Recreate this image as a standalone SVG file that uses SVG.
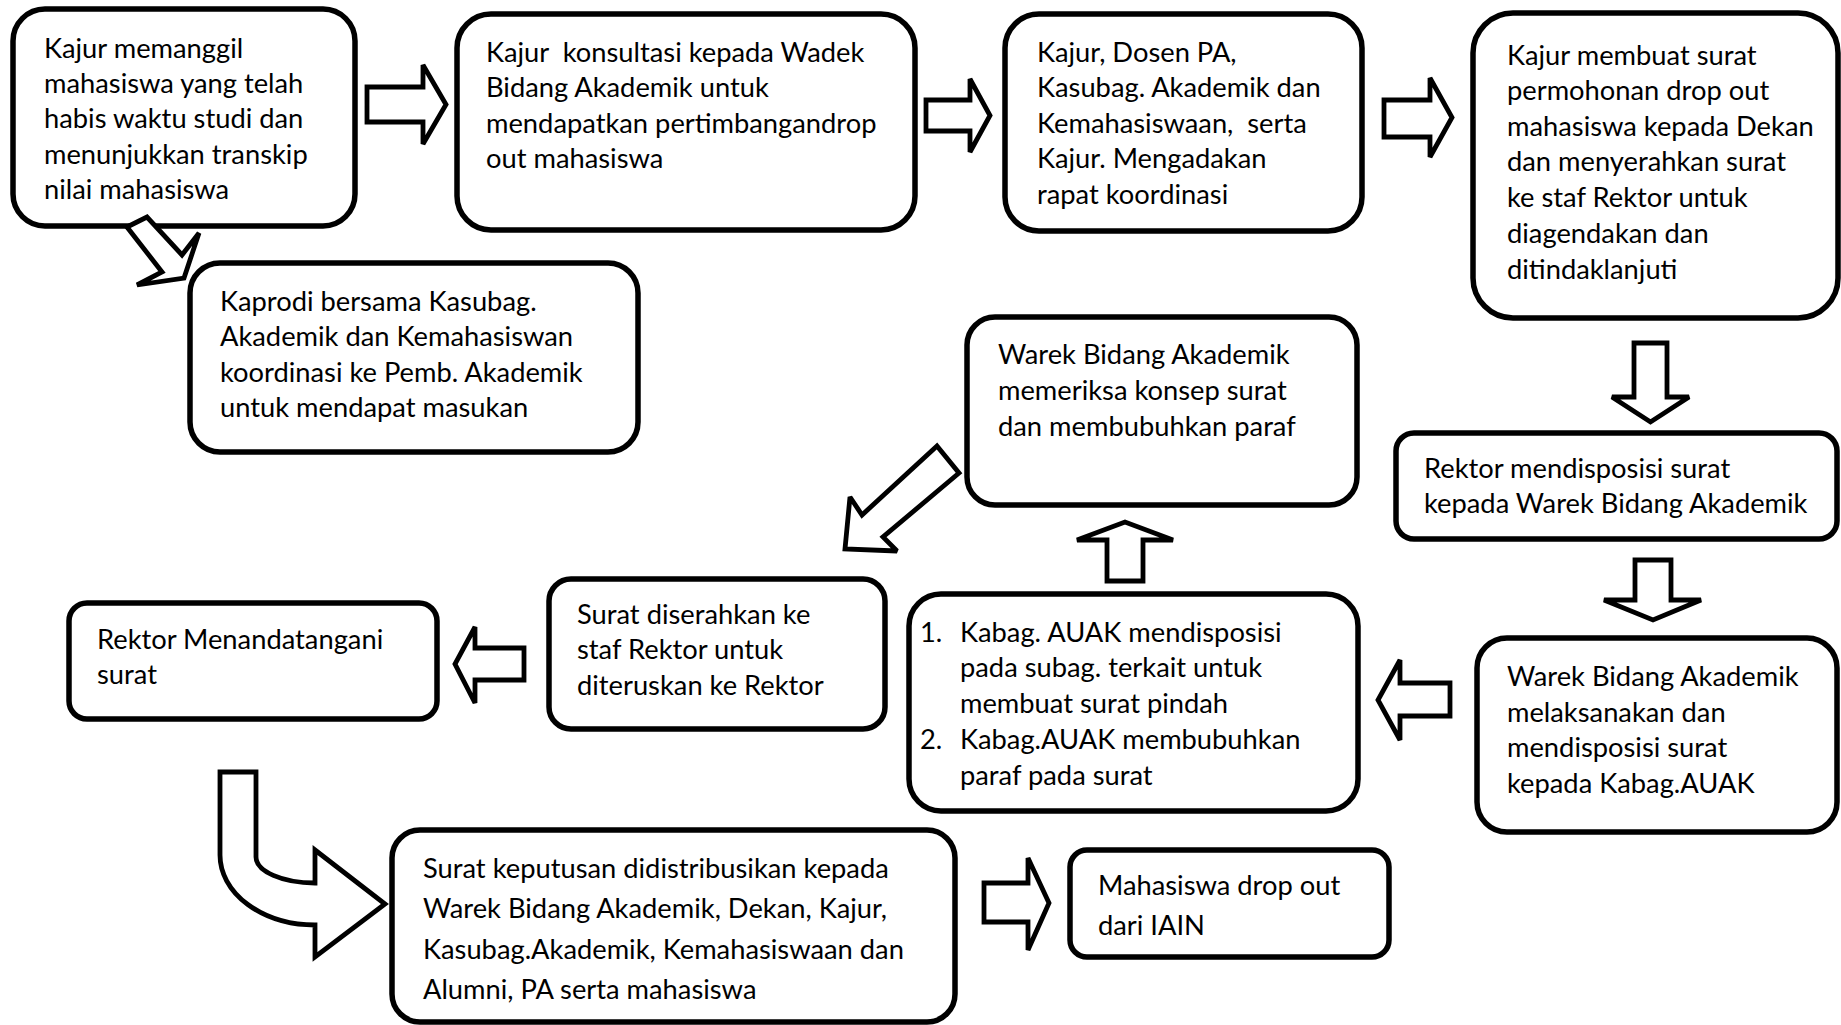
<svg xmlns="http://www.w3.org/2000/svg" width="1841" height="1025" viewBox="0 0 1841 1025">
  <style>
    .box { fill: #ffffff; stroke: #000000; stroke-width: 5.5; }
    .arrow { fill: #ffffff; stroke: #000000; stroke-width: 4.8; stroke-linejoin: miter; stroke-miterlimit: 2.6; }
    text { font-family: Lato, "Liberation Sans", sans-serif; font-size: 27.3px; fill: #000000; white-space: pre; }
  </style>
  <rect width="1841" height="1025" fill="#ffffff"/>

  <!-- process steps -->
  <g id="node-panggil">
    <rect class="box" x="13" y="9" width="342" height="217" rx="32"/>
    <text x="44" y="58">Kajur memanggil</text>
    <text x="44" y="93">mahasiswa yang telah</text>
    <text x="44" y="128">habis waktu studi dan</text>
    <text x="44" y="164">menunjukkan transkip</text>
    <text x="44" y="199">nilai mahasiswa</text>
  </g>
  <g id="node-konsultasi">
    <rect class="box" x="457" y="14" width="458" height="216" rx="34"/>
    <text x="486" y="62">Kajur  konsultasi kepada Wadek</text>
    <text x="486" y="97">Bidang Akademik untuk</text>
    <text x="486" y="133">mendapatkan pertimbangandrop</text>
    <text x="486" y="168">out mahasiswa</text>
  </g>
  <g id="node-rapat">
    <rect class="box" x="1005" y="14" width="357" height="217" rx="34"/>
    <text x="1037" y="62">Kajur, Dosen PA,</text>
    <text x="1037" y="97">Kasubag. Akademik dan</text>
    <text x="1037" y="133">Kemahasiswaan,  serta</text>
    <text x="1037" y="168">Kajur. Mengadakan</text>
    <text x="1037" y="204">rapat koordinasi</text>
  </g>
  <g id="node-permohonan">
    <rect class="box" x="1473" y="13" width="365" height="305" rx="40"/>
    <text x="1507" y="65">Kajur membuat surat</text>
    <text x="1507" y="100">permohonan drop out</text>
    <text x="1507" y="136">mahasiswa kepada Dekan</text>
    <text x="1507" y="171">dan menyerahkan surat</text>
    <text x="1507" y="207">ke staf Rektor untuk</text>
    <text x="1507" y="243">diagendakan dan</text>
    <text x="1507" y="279">ditindaklanjuti</text>
  </g>
  <g id="node-kaprodi">
    <rect class="box" x="190" y="263" width="448" height="189" rx="30"/>
    <text x="220" y="311">Kaprodi bersama Kasubag.</text>
    <text x="220" y="346">Akademik dan Kemahasiswan</text>
    <text x="220" y="382">koordinasi ke Pemb. Akademik</text>
    <text x="220" y="417">untuk mendapat masukan</text>
  </g>
  <g id="node-warek-periksa">
    <rect class="box" x="967" y="317" width="390" height="188" rx="28"/>
    <text x="998" y="364">Warek Bidang Akademik</text>
    <text x="998" y="400">memeriksa konsep surat</text>
    <text x="998" y="436">dan membubuhkan paraf</text>
  </g>
  <g id="node-rektor-disposisi">
    <rect class="box" x="1396" y="433" width="441" height="106" rx="18"/>
    <text x="1424" y="478">Rektor mendisposisi surat</text>
    <text x="1424" y="513">kepada Warek Bidang Akademik</text>
  </g>
  <g id="node-warek-laksana">
    <rect class="box" x="1477" y="638" width="360" height="194" rx="30"/>
    <text x="1507" y="686">Warek Bidang Akademik</text>
    <text x="1507" y="722">melaksanakan dan</text>
    <text x="1507" y="757">mendisposisi surat</text>
    <text x="1507" y="793">kepada Kabag.AUAK</text>
  </g>
  <g id="node-kabag">
    <rect class="box" x="909" y="594" width="449" height="217" rx="32"/>
    <text x="920" y="642">1.</text>
    <text x="960" y="642">Kabag. AUAK mendisposisi</text>
    <text x="960" y="677">pada subag. terkait untuk</text>
    <text x="960" y="713">membuat surat pindah</text>
    <text x="920" y="749">2.</text>
    <text x="960" y="749">Kabag.AUAK membubuhkan</text>
    <text x="960" y="785">paraf pada surat</text>
  </g>
  <g id="node-staf-rektor">
    <rect class="box" x="549" y="579" width="336" height="150" rx="22"/>
    <text x="577" y="624">Surat diserahkan ke</text>
    <text x="577" y="659">staf Rektor untuk</text>
    <text x="577" y="695">diteruskan ke Rektor</text>
  </g>
  <g id="node-tandatangan">
    <rect class="box" x="69" y="603" width="368" height="116" rx="18"/>
    <text x="97" y="649">Rektor Menandatangani</text>
    <text x="97" y="684">surat</text>
  </g>
  <g id="node-distribusi">
    <rect class="box" x="392" y="830" width="563" height="192" rx="28"/>
    <text x="423" y="878">Surat keputusan didistribusikan kepada</text>
    <text x="423" y="918">Warek Bidang Akademik, Dekan, Kajur,</text>
    <text x="423" y="959">Kasubag.Akademik, Kemahasiswaan dan</text>
    <text x="423" y="999">Alumni, PA serta mahasiswa</text>
  </g>
  <g id="node-dropout">
    <rect class="box" x="1070" y="850" width="319" height="107" rx="17"/>
    <text x="1098" y="895">Mahasiswa drop out</text>
    <text x="1098" y="935">dari IAIN</text>
  </g>

  <!-- block arrows between the steps -->
  <g id="connectors">
    <polygon class="arrow" points="367,87 423,87 423,65 446,104.5 423,144 423,122 367,122"/>
    <polygon class="arrow" points="926,100 970,100 970,79 990,115.5 970,152 970,131 926,131"/>
    <polygon class="arrow" points="1384,100 1430,100 1430,78 1452,117.5 1430,157 1430,137 1384,137"/>
    <polygon class="arrow" points="127,227 147,217 182,255 199,233 184,278 137,285 162,272"/>
    <polygon class="arrow" points="1634,343 1667,343 1667,397 1689,397 1650.5,422 1612,397 1634,397"/>
    <polygon class="arrow" points="1635,560 1671,560 1671,600 1701,600 1653,620 1604,600 1635,600"/>
    <polygon class="arrow" points="1450,683 1450,716 1400,716 1400,740 1378,700 1400,660 1400,683"/>
    <polygon class="arrow" points="1107,581 1143,581 1143,540 1173,540 1125,522 1077,540 1107,540"/>
    <polygon class="arrow" points="937,446 959,473 883,537 897,551 845,549 850,497 862,515"/>
    <polygon class="arrow" points="524,648 524,680 475,680 475,703 455,664 475,627 475,648"/>
    <path class="arrow" d="M220,772 H256 V857 A59,26 0 0 0 315,883 V850 L385,904 L315,957 V925 A95,70 0 0 1 220,855 Z"/>
    <polygon class="arrow" points="984,883 1028,883 1028,858 1049,903 1028,950 1028,922 984,922"/>
  </g>
</svg>
